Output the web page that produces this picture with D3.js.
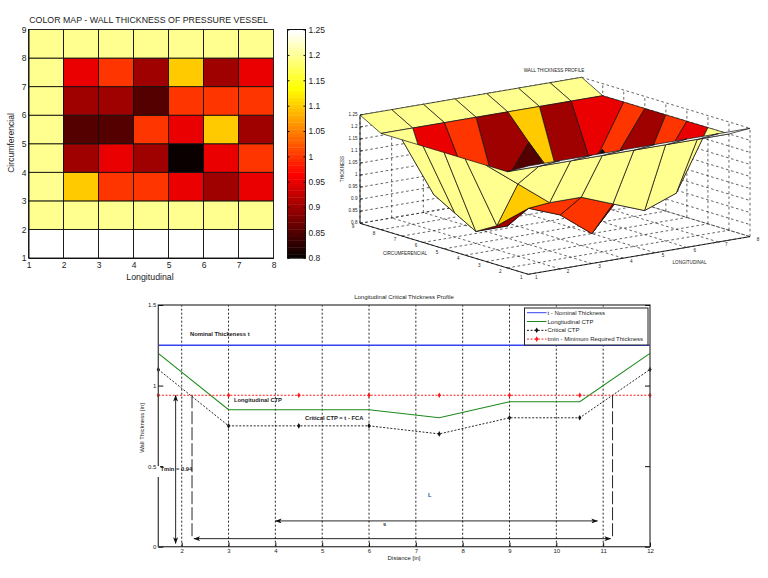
<!DOCTYPE html>
<html>
<head>
<meta charset="utf-8">
<script src="https://cdn.jsdelivr.net/npm/d3@7"></script>
<style>
  html, body { margin: 0; padding: 0; background: #fff; }
  svg { display: block; }
  text { font-family: "Liberation Sans", sans-serif; fill: #222; }
</style>
</head>
<body>
<svg id="chart" width="768" height="578"></svg>
<script>
/* DATA */
const longTicks = [1, 2, 3, 4, 5, 6, 7, 8];
const circTicks = [1, 2, 3, 4, 5, 6, 7, 8, 9];
const cbarTicks = [0.8, 0.85, 0.9, 0.95, 1, 1.05, 1.1, 1.15, 1.2, 1.25];

// wall thickness, one row per circumferencial station (1 to 9), one value per longitudinal station (1 to 8)
const row1 = [1.25, 1.25, 1.25, 1.25, 1.25, 1.25, 1.25, 1.25];
const row2 = [1.2, 1.2, 1.2, 1.2, 1.2, 1.2, 1.2, 1.2];
const row3 = [1.2, 1.1, 1, 1, 0.95, 0.9, 0.95, 1.2];
const row4 = [1.2, 0.9, 0.95, 0.9, 0.8, 0.95, 1, 1.2];
const row5 = [1.2, 0.85, 0.85, 1, 0.95, 1.1, 0.9, 1.2];
const row6 = [1.2, 0.9, 0.9, 0.85, 1, 1, 1, 1.2];
const row7 = [1.2, 0.95, 1, 0.9, 1.1, 0.9, 0.95, 1.2];
const row8 = [1.2, 1.2, 1.2, 1.2, 1.2, 1.2, 1.2, 1.2];
const row9 = [1.25, 1.25, 1.25, 1.25, 1.25, 1.25, 1.25, 1.25];
const wall = [row1, row2, row3, row4, row5, row6, row7, row8, row9];

// bottom profile
const distance = [1.5, 3, 4.5, 6, 7.5, 9, 10.5, 12];
const nominal = [1.25, 1.25, 1.25, 1.25, 1.25, 1.25, 1.25, 1.25];
const longCtp = [1.2, 0.85, 0.85, 0.85, 0.8, 0.9, 0.9, 1.2];
const critCtp = [1.1, 0.75, 0.75, 0.75, 0.7, 0.8, 0.8, 1.1];
const tmin = [0.94, 0.94, 0.94, 0.94, 0.94, 0.94, 0.94, 0.94];
const distTicks = [2, 3, 4, 5, 6, 7, 8, 9, 10, 11, 12];
const thickTicks = [0, 0.5, 1, 1.5];
const legendNames = ["t - Nominal Thickness", "Longitudinal CTP", "Critical CTP", "tmin - Minimum Required Thickness"];

const svg = d3.select("#chart");

/* colormap, 64 step hot */
const hot = d3.range(64).map((i) => {
  const t = (i + 1) / 64;
  const r = Math.min(1, t / 0.375);
  const g = Math.max(0, Math.min(1, (t - 0.375) / 0.375));
  const b = Math.max(0, (t - 0.75) / 0.25);
  return d3.rgb(r * 255, g * 255, b * 255).formatHex();
});
const color = d3.scaleQuantize().domain([0.8, 1.25]).range(hot);

function styleAxis(g, size) {
  g.selectAll("path, line").attr("stroke", "#111").attr("stroke-width", 1);
  g.selectAll("text").attr("font-size", size);
}

/* COLOR MAP */
const hmX = d3.scaleLinear().domain([1, 8]).range([28.5, 273.5]);
const hmY = d3.scaleLinear().domain([1, 9]).range([258, 29.5]);

const cells = [];
wall.slice(0, 8).forEach((row, j) => {
  row.slice(0, 7).forEach((v, i) => cells.push({ x: i + 1, y: j + 1, v: v }));
});

svg.append("g")
  .selectAll("rect")
  .data(cells)
  .join("rect")
  .attr("x", (d) => hmX(d.x))
  .attr("y", (d) => hmY(d.y + 1))
  .attr("width", (d) => hmX(d.x + 1) - hmX(d.x))
  .attr("height", (d) => hmY(d.y) - hmY(d.y + 1))
  .attr("fill", (d) => color(d.v))
  .attr("stroke", "#111")
  .attr("stroke-width", 0.9);

svg.append("g")
  .attr("transform", "translate(0,258)")
  .call(d3.axisBottom(hmX).tickValues(longTicks).tickFormat(d3.format("d")).tickSize(0).tickPadding(4))
  .call(styleAxis, 8.5);
svg.append("g")
  .attr("transform", "translate(28.5,0)")
  .call(d3.axisLeft(hmY).tickValues(circTicks).tickFormat(d3.format("d")).tickSize(0).tickPadding(2))
  .call(styleAxis, 8.5);

svg.append("text").attr("x", 148.5).attr("y", 23).attr("text-anchor", "middle")
  .attr("font-size", 8.8).text("COLOR MAP - WALL THICKNESS OF PRESSURE VESSEL");
svg.append("text").attr("x", 150).attr("y", 280).attr("text-anchor", "middle")
  .attr("font-size", 8.8).text("Longitudinal");
svg.append("text").attr("transform", "translate(14,143) rotate(-90)").attr("text-anchor", "middle")
  .attr("font-size", 8.6).text("Circumferencial");

/* colorbar */
const cbY = d3.scaleLinear().domain([0.8, 1.25]).range([258, 29.5]);
svg.append("g")
  .selectAll("rect")
  .data(hot)
  .join("rect")
  .attr("x", 287.5)
  .attr("width", 18)
  .attr("y", (d, i) => cbY(0.8 + (0.45 * (i + 1)) / 64))
  .attr("height", 229 / 64 + 0.4)
  .attr("fill", (d) => d);
svg.append("rect").attr("x", 287.5).attr("y", 29.5).attr("width", 18).attr("height", 228.5)
  .attr("fill", "none").attr("stroke", "#111");
svg.append("g")
  .attr("transform", "translate(305.5,0)")
  .call(d3.axisRight(cbY).tickValues(cbarTicks).tickFormat((d) => d3.format("")(+d.toFixed(2))).tickSize(-2).tickPadding(3).tickSizeOuter(0))
  .call(styleAxis, 8.5)
  .call((g) => g.select(".domain").remove());
svg.append("g")
  .attr("transform", "translate(287.5,0)")
  .call(d3.axisRight(cbY).tickValues(cbarTicks).tickFormat("").tickSize(2).tickSizeOuter(0))
  .call(styleAxis, 8.5)
  .call((g) => g.select(".domain").remove());

/* 3D SURFACE */
const fx = d3.scaleLinear().domain([1, 8]).range([0, 1]);
const fy = d3.scaleLinear().domain([1, 9]).range([0, 1]);
const fz = d3.scaleLinear().domain([0.8, 1.25]).range([0, 1]);

// orthographic view: where the box corners land on the page
function project(x, y, z) {
  return [
    528.3 + 221.7 * fx(x) - 168.3 * fy(y),
    274.3 - 37.7 * fx(x) - 51 * fy(y) - 108.3 * fz(z),
  ];
}

const box = svg.append("g");
function seg(a, b, dashed) {
  const p = project(a[0], a[1], a[2]);
  const q = project(b[0], b[1], b[2]);
  box.append("line")
    .attr("x1", p[0]).attr("y1", p[1]).attr("x2", q[0]).attr("y2", q[1])
    .attr("stroke", "#222")
    .attr("stroke-width", dashed ? 0.7 : 0.8)
    .attr("stroke-dasharray", dashed ? "2.6,2.6" : null);
}

// dashed grid on floor and the two back walls
longTicks.forEach((x) => {
  seg([x, 1, 0.8], [x, 9, 0.8], true);
  seg([x, 9, 0.8], [x, 9, 1.25], true);
});
circTicks.forEach((y) => {
  seg([1, y, 0.8], [8, y, 0.8], true);
  seg([8, y, 0.8], [8, y, 1.25], true);
});
cbarTicks.forEach((z) => {
  seg([1, 9, z], [8, 9, z], true);
  seg([8, 9, z], [8, 1, z], true);
});

const facets = [];
for (let j = 0; j < 8; j++) {
  for (let i = 0; i < 7; i++) {
    const x = i + 1;
    const y = j + 1;
    facets.push({
      v: wall[j][i],
      pts: [
        project(x, y, wall[j][i]),
        project(x + 1, y, wall[j][i + 1]),
        project(x + 1, y + 1, wall[j + 1][i + 1]),
        project(x, y + 1, wall[j + 1][i]),
      ],
      depth: project(x + 0.5, y + 0.5, 0.8)[1],
    });
  }
}
facets.sort((a, b) => a.depth - b.depth);

svg.append("g")
  .selectAll("polygon")
  .data(facets)
  .join("polygon")
  .attr("points", (d) => d.pts.join(" "))
  .attr("fill", (d) => color(d.v))
  .attr("stroke", "#111")
  .attr("stroke-width", 0.7)
  .attr("stroke-linejoin", "round");

// solid box edges and tick labels
const edges = svg.append("g");
function edge(a, b) {
  const p = project(a[0], a[1], a[2]);
  const q = project(b[0], b[1], b[2]);
  edges.append("line")
    .attr("x1", p[0]).attr("y1", p[1]).attr("x2", q[0]).attr("y2", q[1])
    .attr("stroke", "#111").attr("stroke-width", 0.9);
}
edge([1, 9, 0.8], [1, 9, 1.25]);
edge([1, 9, 0.8], [1, 1, 0.8]);
edge([1, 1, 0.8], [8, 1, 0.8]);

function tinyText(x, y, s, anchor) {
  return svg.append("text").attr("x", x).attr("y", y).attr("text-anchor", anchor || "middle")
    .attr("font-size", 4.6).text(s);
}
longTicks.forEach((x) => {
  const p = project(x, 1, 0.8);
  tinyText(p[0] + 8, p[1] + 4.5, x);
});
circTicks.forEach((y) => {
  const p = project(1, y, 0.8);
  tinyText(p[0] - 7, p[1] + 5, y);
});
cbarTicks.forEach((z) => {
  const p = project(1, 9, z);
  tinyText(p[0] - 2.5, p[1] + 1, d3.format("")(+z.toFixed(2)), "end");
  edges.append("line").attr("x1", p[0]).attr("x2", p[0] + 3).attr("y1", p[1]).attr("y2", p[1] - 0.5)
    .attr("stroke", "#111").attr("stroke-width", 0.7);
});
tinyText(554, 72, "WALL THICKNESS PROFILE");
tinyText(405, 254.5, "CIRCUMFERENCIAL");
tinyText(689.5, 263.5, "LONGITUDINAL");
svg.append("text").attr("transform", "translate(343.5,169) rotate(-90)").attr("text-anchor", "middle")
  .attr("font-size", 4.6).text("THICKNESS");

/* THICKNESS PROFILE */
const px = d3.scaleLinear().domain([1.5, 12]).range([158.3, 650]);
const py = d3.scaleLinear().domain([0, 1.5]).range([546.7, 305]);

svg.append("defs").append("marker")
  .attr("id", "head")
  .attr("viewBox", "0 0 8 6")
  .attr("refX", 7.5)
  .attr("refY", 3)
  .attr("markerWidth", 7)
  .attr("markerHeight", 5)
  .attr("markerUnits", "userSpaceOnUse")
  .attr("orient", "auto-start-reverse")
  .append("path")
  .attr("d", "M0,0L8,3L0,6L2,3Z")
  .attr("fill", "#111");

svg.append("g")
  .selectAll("line")
  .data(distTicks.slice(0, -1))
  .join("line")
  .attr("x1", (d) => px(d))
  .attr("x2", (d) => px(d))
  .attr("y1", py(0))
  .attr("y2", py(1.5))
  .attr("stroke", "#111")
  .attr("stroke-width", 0.9)
  .attr("stroke-dasharray", "2,2");

const line = d3.line().x((d) => px(d[0])).y((d) => py(d[1]));
function profile(values, stroke, width, dash) {
  svg.append("path")
    .attr("d", line(d3.zip(distance, values)))
    .attr("fill", "none")
    .attr("stroke", stroke)
    .attr("stroke-width", width)
    .attr("stroke-dasharray", dash);
}
function dots(values, fill) {
  svg.append("g")
    .selectAll("path")
    .data(d3.zip(distance, values))
    .join("path")
    .attr("transform", (d) => `translate(${px(d[0])},${py(d[1])})`)
    .attr("d", d3.symbol(d3.symbolDiamond, 9))
    .attr("fill", fill);
}
profile(nominal, "#3344ee", 1.4, null);
profile(longCtp, "#1b8a1b", 1.1, null);
profile(critCtp, "#111", 0.9, "2,1.6");
dots(critCtp, "#111");
profile(tmin, "#ff1a1a", 1.2, "2,1.6");
dots(tmin, "#ff1a1a");

// frame and ticks
svg.append("rect").attr("x", px(1.5)).attr("y", py(1.5)).attr("width", px(12) - px(1.5)).attr("height", py(0) - py(1.5))
  .attr("fill", "none").attr("stroke", "#444").attr("stroke-width", 1.3);
svg.append("g")
  .attr("transform", `translate(0,${py(0)})`)
  .call(d3.axisBottom(px).tickValues(distTicks).tickFormat(d3.format("d")).tickSize(-4).tickPadding(2).tickSizeOuter(0))
  .call(styleAxis, 6)
  .call((g) => g.select(".domain").remove());
svg.append("g")
  .attr("transform", `translate(${px(1.5)},0)`)
  .call(d3.axisLeft(py).tickValues(thickTicks).tickFormat(d3.format("")).tickSize(-5).tickPadding(2).tickSizeOuter(0))
  .call(styleAxis, 6)
  .call((g) => g.select(".domain").remove());
svg.append("g")
  .attr("transform", `translate(${px(12)},0)`)
  .call(d3.axisRight(py).tickValues(thickTicks).tickFormat("").tickSize(-5).tickSizeOuter(0))
  .call(styleAxis, 6)
  .call((g) => g.select(".domain").remove());

svg.append("text").attr("x", 404).attr("y", 299).attr("text-anchor", "middle")
  .attr("font-size", 6).text("Longitudinal Critical Thickness Profile");
svg.append("text").attr("x", 404).attr("y", 560).attr("text-anchor", "middle")
  .attr("font-size", 6).text("Distance [in]");
svg.append("text").attr("transform", "translate(144,428) rotate(-90)").attr("text-anchor", "middle")
  .attr("font-size", 6).text("Wall Thickness [in]");

// the Tmin label sits on a white box that breaks the left axis
svg.append("rect").attr("x", 157).attr("y", 466).attr("width", 3).attr("height", 11).attr("fill", "#fff");

// annotations
function note(x, y, s, fill) {
  svg.append("text").attr("x", x).attr("y", y).attr("font-size", 5.8)
    .attr("font-weight", "bold").attr("fill", fill || "#222").style("fill", fill || "#222").text(s);
}
note(190, 335.5, "Nominal Thickeness t");
note(234, 402, "Longitudinal CTP");
note(305, 419.5, "Critical CTP = t - FCA");
note(160.5, 470.5, "Tmin = 0.94");
note(428, 497, "L", "#1f4e9c");
note(383, 526, "s");

function arrow(x1, y1, x2, y2) {
  svg.append("line")
    .attr("x1", px(x1)).attr("y1", py(y1)).attr("x2", px(x2)).attr("y2", py(y2))
    .attr("stroke", "#111").attr("stroke-width", 0.9)
    .attr("marker-start", "url(#head)").attr("marker-end", "url(#head)");
}
function longDash(x, y1, y2) {
  svg.append("line")
    .attr("x1", px(x)).attr("y1", py(y1)).attr("x2", px(x)).attr("y2", py(y2))
    .attr("stroke", "#111").attr("stroke-width", 0.9).attr("stroke-dasharray", "13,3");
}
arrow(1.87, 0.94, 1.87, 0.02);
arrow(4, 0.16, 10.88, 0.16);
arrow(2.26, 0.05, 11.16, 0.05);
longDash(2.22, 0.94, 0.05);
longDash(11.2, 0.94, 0.05);

/* legend */
const lg = svg.append("g");
lg.append("rect").attr("x", 524.5).attr("y", 308).attr("width", 123.5).attr("height", 37)
  .attr("fill", "#fff").attr("stroke", "#222").attr("stroke-width", 1);
const legendStroke = ["#3344ee", "#1b8a1b", "#111", "#ff1a1a"];
const legendDash = [null, null, "2,1.6", "2,1.6"];
legendNames.forEach((name, i) => {
  const y = 312.7 + i * 8.8;
  lg.append("line").attr("x1", 527).attr("x2", 546.5).attr("y1", y).attr("y2", y)
    .attr("stroke", legendStroke[i]).attr("stroke-width", 1).attr("stroke-dasharray", legendDash[i]);
  if (i > 1) {
    lg.append("path").attr("transform", `translate(536.7,${y})`)
      .attr("d", d3.symbol(d3.symbolDiamond, 9)).attr("fill", legendStroke[i]);
  }
  lg.append("text").attr("x", 547.5).attr("y", y + 2).attr("font-size", 6).text(name);
});
</script>
</body>
</html>
